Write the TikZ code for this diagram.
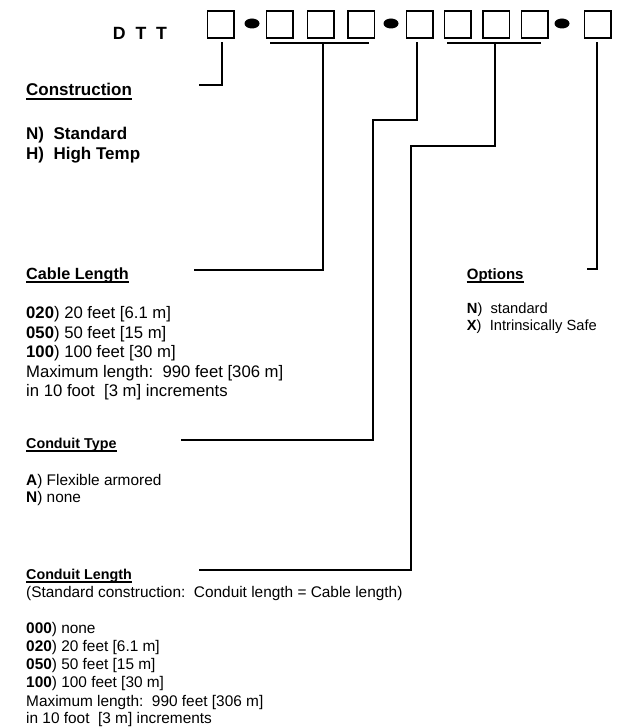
\documentclass[tikz,border=0pt]{standalone}
\usepackage{fontspec}
\setmainfont{Liberation Sans}
\begin{document}
\begin{tikzpicture}[x=1pt,y=-1pt,
  lead/.style={line width=2pt, line cap=rect},
  codebox/.style={draw, line width=1.6pt, minimum width=26.5pt, minimum height=27pt, inner sep=0pt, anchor=north west},
  txt/.style={anchor=base west, inner sep=0pt},
  headA/.style={txt, font=\fontsize{17}{20}\selectfont\bfseries},
  headB/.style={txt, font=\fontsize{16.2}{19}\selectfont\bfseries},
  headC/.style={txt, font=\fontsize{14.3}{17}\selectfont\bfseries},
  headD/.style={txt, font=\fontsize{15}{18}\selectfont\bfseries},
  bodyB/.style={txt, font=\fontsize{16.7}{19}\selectfont},
  bodyC/.style={txt, font=\fontsize{15.4}{18}\selectfont},
  bodyD/.style={txt, font=\fontsize{14.7}{17}\selectfont},
  uline/.style={line width=1.3pt}]
\useasboundingbox (0,0) rectangle (616,727);

% title
\node[txt, font=\fontsize{17.7}{20}\selectfont\bfseries] (dtt) at (112.7,39.3) {D\ \ T\ \ T};

% boxes
\node[codebox] (b1) at (206.5,10) {};
\node[codebox] (b2) at (265.5,10) {};
\node[codebox] (b3) at (306.5,10) {};
\node[codebox] (b4) at (347,10) {};
\node[codebox] (b5) at (405.5,10) {};
\node[codebox] (b6) at (443.5,10) {};
\node[codebox] (b7) at (482,10) {};
\node[codebox] (b8) at (520.5,10) {};
\node[codebox] (b9) at (583.5,10) {};

% dots
\fill (252,23.5) ellipse [x radius=7.5pt, y radius=5pt];
\fill (391,23.5) ellipse [x radius=7.5pt, y radius=5pt];
\fill (562,23.5) ellipse [x radius=7.5pt, y radius=5pt];

% leader coordinates
\coordinate (consT) at (221.5,43.5);
\coordinate (consE) at (200,85.5);
\coordinate (brA1) at (270.5,43.5);
\coordinate (brA2) at (367.5,43.5);
\coordinate (cabT) at (322.5,43.5);
\coordinate (cabE) at (195,270);
\coordinate (ctT) at (417,43.5);
\coordinate (ctK) at (372.7,120);
\coordinate (ctE) at (182,440);
\coordinate (brB1) at (448,43.5);
\coordinate (brB2) at (539.5,43.5);
\coordinate (clT) at (495,43.5);
\coordinate (clK) at (411,146);
\coordinate (clE) at (200,570);
\coordinate (opT) at (597,43.5);
\coordinate (opE) at (588,269);

\draw[lead] (consT) |- (consE);
\draw[lead] (brA1) -- (brA2);
\draw[lead] (cabT) |- (cabE);
\draw[lead] (ctT) |- (ctK) |- (ctE);
\draw[lead] (brB1) -- (brB2);
\draw[lead] (clT) |- (clK) |- (clE);
\draw[lead] (opT) |- (opE);

% Construction
\node[headA] (hcons) at (26,96) {Construction};
\draw[uline] ([yshift=-3pt]hcons.base west) -- ([yshift=-3pt]hcons.base east);
\node[headA] (cons1) at (26,140) {N)\ \ Standard};
\node[headA] (cons2) at (26,160) {H)\ \ High Temp};

% Cable Length
\node[headB] (hcab) at (26,279) {Cable Length};
\draw[uline] ([yshift=-3pt]hcab.base west) -- ([yshift=-3pt]hcab.base east);
\node[bodyB] (cab1) at (26,318) {\textbf{020}) 20 feet [6.1 m]};
\node[bodyB] (cab2) at (26,338) {\textbf{050}) 50 feet [15 m]};
\node[bodyB] (cab3) at (26,357) {\textbf{100}) 100 feet [30 m]};
\node[bodyB] (cab4) at (26,377) {Maximum length:\ \ 990 feet [306 m]};
\node[bodyB] (cab5) at (26,396) {in 10 foot\ \ [3 m] increments};

% Conduit Type
\node[headC] (hct) at (26,448) {Conduit Type};
\draw[uline] ([yshift=-3pt]hct.base west) -- ([yshift=-3pt]hct.base east);
\node[bodyC] (ct1) at (26,485) {\textbf{A}) Flexible armored};
\node[bodyC] (ct2) at (26,502) {\textbf{N}) none};

% Conduit Length
\node[headC] (hcl) at (26,579) {Conduit Length};
\draw[uline] ([yshift=-3pt]hcl.base west) -- ([yshift=-3pt]hcl.base east);
\node[bodyC] (clsub) at (26,597) {(Standard construction:\ \ Conduit length = Cable length)};
\node[bodyC] (cl1) at (26,633) {\textbf{000}) none};
\node[bodyC] (cl2) at (26,651) {\textbf{020}) 20 feet [6.1 m]};
\node[bodyC] (cl3) at (26,669) {\textbf{050}) 50 feet [15 m]};
\node[bodyC] (cl4) at (26,687) {\textbf{100}) 100 feet [30 m]};
\node[bodyC] (cl5) at (26,706) {Maximum length:\ \ 990 feet [306 m]};
\node[bodyC] (cl6) at (26,723) {in 10 foot\ \ [3 m] increments};

% Options
\node[headD] (hop) at (466.7,279) {Options};
\draw[uline] ([yshift=-3pt]hop.base west) -- ([yshift=-3pt]hop.base east);
\node[bodyD] (op1) at (466.7,313) {\textbf{N})\ \ standard};
\node[bodyD] (op2) at (466.7,330) {\textbf{X})\ \ Intrinsically Safe};
\end{tikzpicture}
\end{document}
